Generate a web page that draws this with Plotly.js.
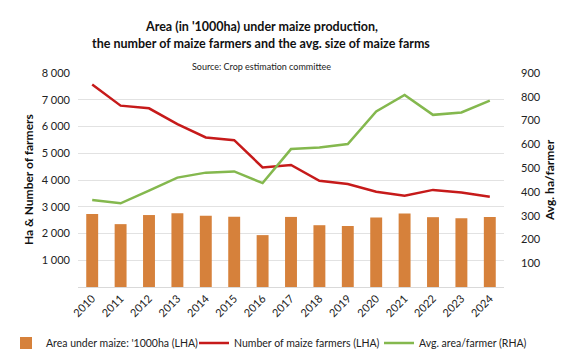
<!DOCTYPE html>
<html><head><meta charset="utf-8">
<script src="https://cdn.plot.ly/plotly-3.0.1.min.js"></script>
<style>html,body{margin:0;padding:0;background:#fff}#c{width:577px;height:360px}</style>
</head><body><div id="c"></div>
<script>
const years = ['2010','2011','2012','2013','2014','2015','2016','2017','2018','2019','2020','2021','2022','2023','2024'];
const areaUnderMaize = [2730,2350,2690,2760,2660,2630,1940,2620,2310,2280,2600,2750,2610,2570,2620];
const numberOfFarmers = [7570,6780,6680,6090,5590,5490,4470,4560,3970,3850,3560,3410,3630,3530,3370];
const avgAreaPerFarmer = [366,352,405,460,481,486,437,580,587,601,738,808,724,734,784];
const leftTicks = [1000,2000,3000,4000,5000,6000,7000,8000];
const rightTicks = [100,200,300,400,500,600,700,800,900];

const F = 'Lato, "Open Sans", sans-serif';
const W = 577, H = 360, L = 78, R = 73, T = 73, B = 73;
const pw = W - L - R, ph = H - T - B;
const px = x => (x - L) / pw;          // pixel -> paper x
const py = y => (H - B - y) / ph;      // pixel -> paper y

const traces = [
  {type:'bar', x:years, y:areaUnderMaize, name:"Area under maize: '1000ha (LHA)",
   marker:{color:'#D6813B'}, width:0.42, yaxis:'y', legend:'legend'},
  {type:'scatter', mode:'lines', x:years, y:numberOfFarmers, name:'Number of maize farmers (LHA)',
   line:{color:'#C61A1A', width:2.5}, yaxis:'y', legend:'legend2'},
  {type:'scatter', mode:'lines', x:years, y:avgAreaPerFarmer, name:'Avg. area/farmer (RHA)',
   line:{color:'#84B84E', width:2.5}, yaxis:'y2', legend:'legend3'}
];
const ann = (text, x, y, size, extra) => Object.assign({text, xref:'paper', yref:'paper',
  x:px(x), y:py(y), xanchor:'center', yanchor:'middle', showarrow:false,
  font:{family:F, size, color:'#111'}}, extra || {});
const leg = x => ({orientation:'h', x:x/W, xanchor:'left', xref:'container', y:1-343/H,
  yanchor:'middle', yref:'container', font:{size:10.5, color:'#222'}, itemwidth:30,
  bgcolor:'rgba(0,0,0,0)', borderwidth:0});
const layout = {
  width:W, height:H,
  margin:{l:L, r:R, t:T, b:B, autoexpand:false},
  paper_bgcolor:'#fff', plot_bgcolor:'#fff',
  separators:'. ',
  font:{family:F, size:11, color:'#222'},
  annotations:[
    ann("<b>Area (in '1000ha) under maize production,</b>", 261, 26, 12.5),
    ann("<b>the number of maize farmers and the avg. size of maize farms</b>", 261, 44, 12.5),
    ann('Source: Crop estimation committee', 261, 66, 9, {font:{family:F, size:9, color:'#222'}}),
    ann('<b>Ha & Number of farmers</b>', 28, 180, 12, {textangle:-90}),
    ann('<b>Avg. ha/farmer</b>', 549, 180, 12, {textangle:-90})
  ],
  xaxis:{type:'category', tickangle:-45, showgrid:false, showline:true, linecolor:'#D9D9D9',
    ticks:'', tickfont:{size:11, color:'#222'}, automargin:false},
  yaxis:{range:[0,8000], tickvals:leftTicks, tickformat:',d', showgrid:true, gridcolor:'#E2E2E2',
    zeroline:false, showline:false, ticks:'', tickfont:{size:11}, ticklabelstandoff:7, automargin:false},
  yaxis2:{range:[0,900], tickvals:rightTicks, overlaying:'y', side:'right', showgrid:false,
    zeroline:false, showline:false, ticks:'', tickfont:{size:11}, ticklabelstandoff:16, automargin:false},
  legend:leg(6),
  legend2:leg(194),
  legend3:leg(379),
  showlegend:true
};
Plotly.newPlot('c', traces, layout, {displayModeBar:false, staticPlot:true});
</script></body></html>
